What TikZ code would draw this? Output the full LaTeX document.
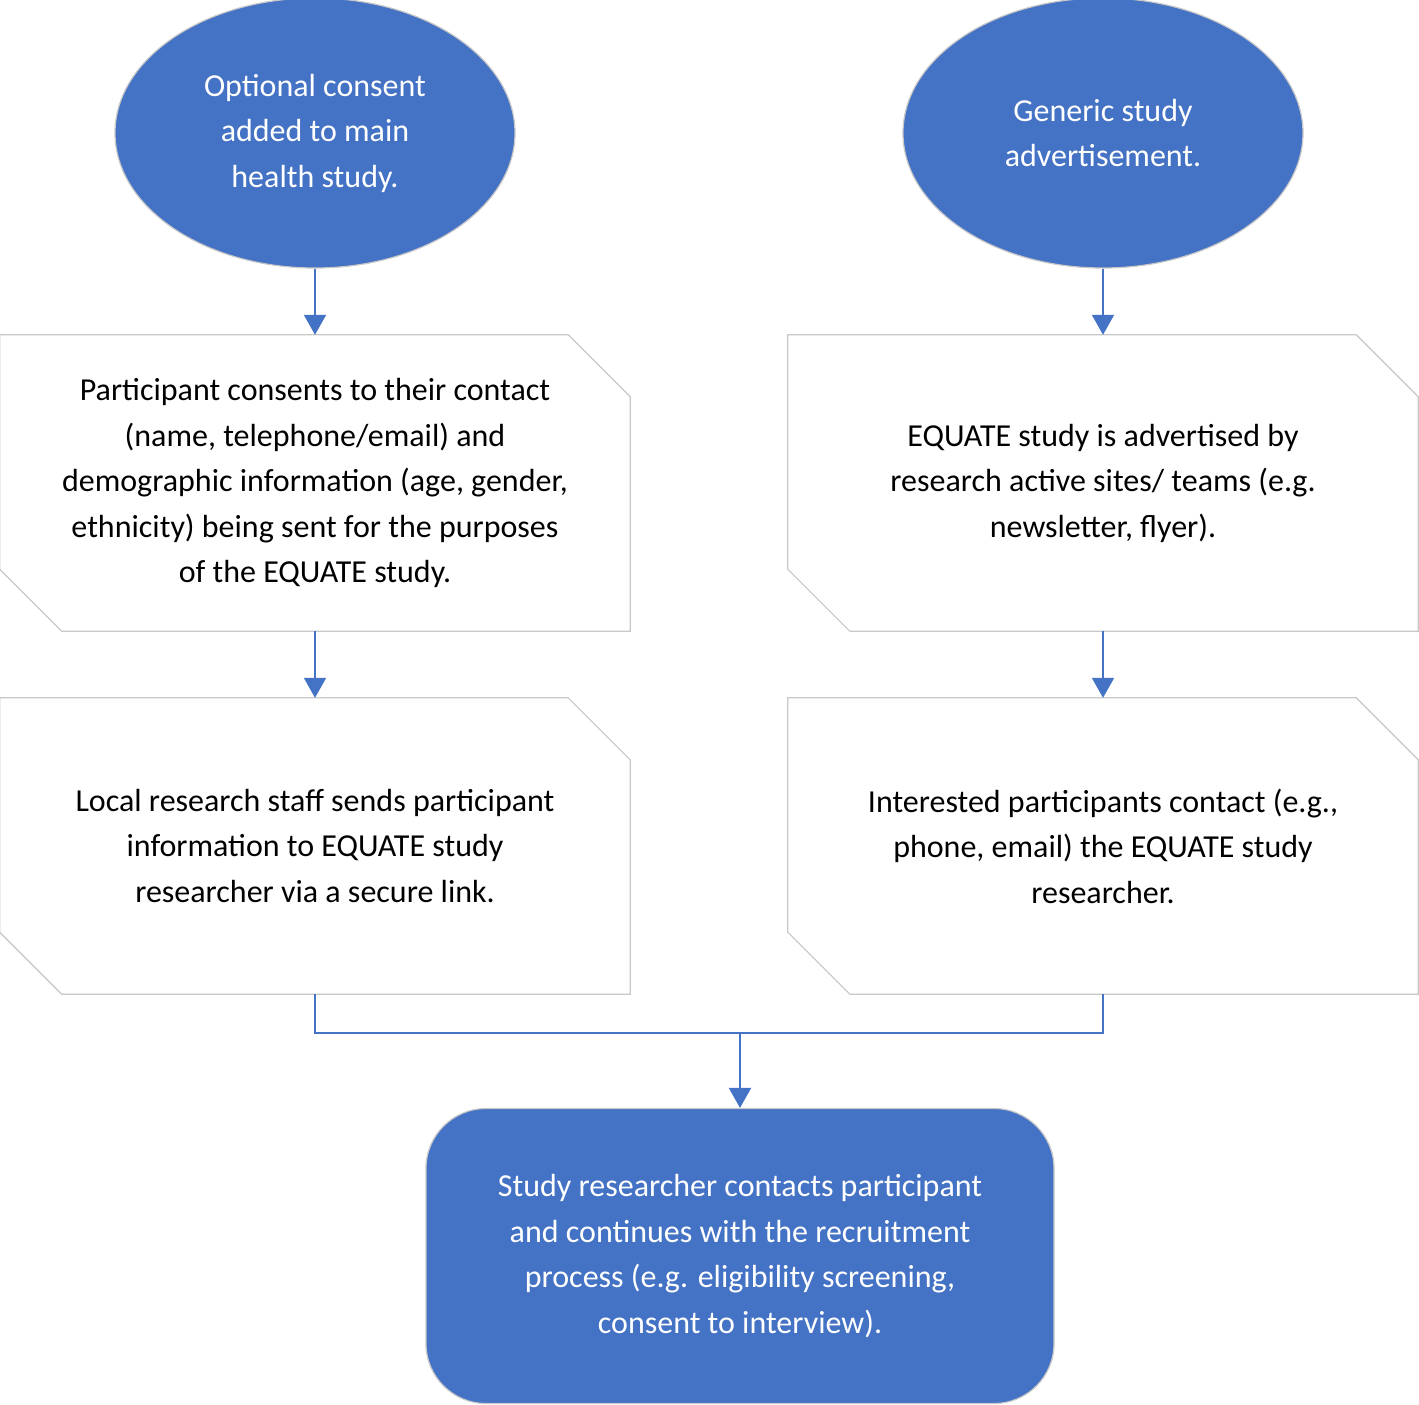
\documentclass[tikz,border=0pt]{standalone}
\usepackage{fontspec}
\setmainfont{Carlito}
\usetikzlibrary{shapes.geometric,arrows.meta}
\definecolor{blu}{HTML}{4472C4}
\definecolor{edge}{HTML}{C8C8C8}
\begin{document}
\begin{tikzpicture}[x=1pt,y=-1pt,
  txt/.style={font=\fontsize{32}{45.5}\selectfont,align=center},
  ell/.style={ellipse,fill=blu,draw=edge,line width=1.2pt,minimum width=400pt,minimum height=270pt,text=white,txt},
  box/.style={rectangle,minimum width=630pt,minimum height=296pt,txt,inner sep=0pt},
  arr/.style={draw=blu,line width=2pt,-{Triangle[length=20pt,width=22pt]}},
  ln/.style={draw=blu,line width=2pt}]
\useasboundingbox (0,0) rectangle (1419,1405);
\newcommand{\cutbox}[1]{\draw[edge,line width=1.2pt,fill=white]
  (#1.north west) -- ([xshift=-62pt]#1.north east) -- ([yshift=-62pt]#1.north east)
  -- (#1.south east) -- ([xshift=62pt]#1.south west) -- ([yshift=62pt]#1.south west) -- cycle;}
\node[ell] (e1) at (315,133) {Optional consent\\added to main\\health study.};
\node[ell] (e2) at (1103,133) {Generic study\\advertisement.};
\node[box] (b1) at (315,483) {};
\node[box] (b2) at (315,846) {};
\node[box] (b3) at (1103,483) {};
\node[box] (b4) at (1103,846) {};
\cutbox{b1}\cutbox{b2}\cutbox{b3}\cutbox{b4}
\node[txt] at (b1) {Participant consents to their contact\\(name, telephone/email) and\\demographic information (age, gender,\\ethnicity) being sent for the purposes\\of the EQUATE study.};
\node[txt] at (b2) {Local research staff sends participant\\information to EQUATE study\\researcher via a secure link.};
\node[txt] at ([yshift=0pt]b3) {EQUATE study is advertised by\\research active sites/ teams (e.g.\\newsletter, flyer).};
\node[txt] at (b4) {Interested participants contact (e.g.,\\phone, email) the EQUATE study\\researcher.};
\node[rectangle,rounded corners=60pt,fill=blu,draw=edge,line width=1.2pt,minimum width=628pt,minimum height=295pt,text=white,txt] (f) at (740,1256) {Study researcher contacts participant\\and continues with the recruitment\\process (e.g. eligibility screening,\\consent to interview).};
\coordinate (m) at (740,1033);
\draw[arr] (e1) -- (b1);
\draw[arr] (e2) -- (b3);
\draw[arr] (b1) -- (b2);
\draw[arr] (b3) -- (b4);
\draw[ln] (b2.south) |- (m) -| (b4.south);
\draw[arr] (m) -- (f);
\end{tikzpicture}
\end{document}
